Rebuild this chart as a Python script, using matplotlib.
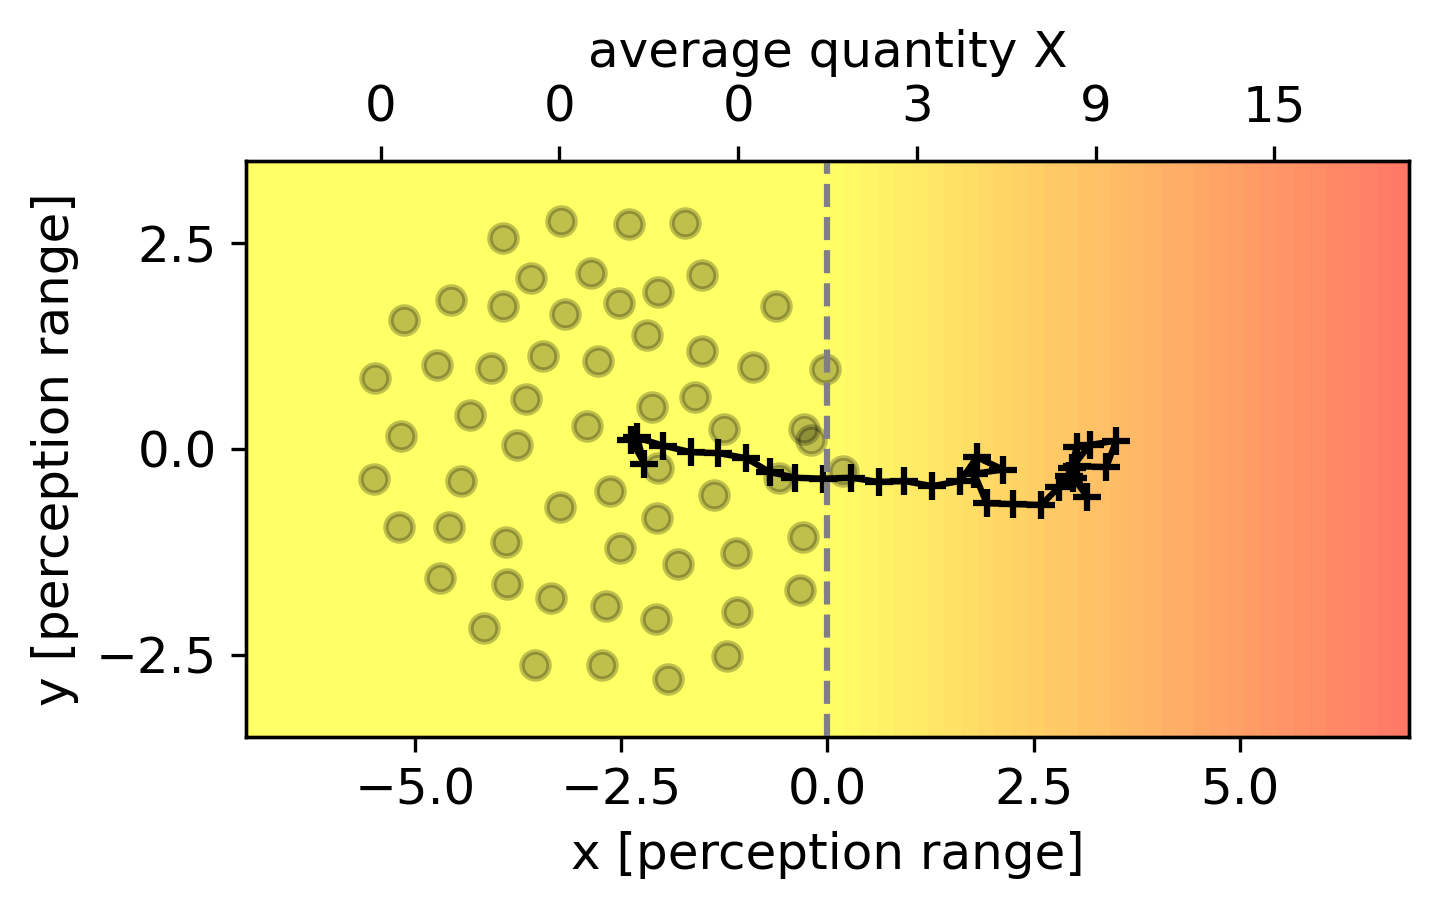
import matplotlib
matplotlib.use("Agg")
import matplotlib.pyplot as plt
import numpy as np

# neighbour positions (perception range units)
dots_x = [-3.23, -2.41, -1.73, -3.93, -3.60, -2.87, -1.52, -4.57, -3.94, -3.18,
          -2.53, -2.06, -0.62, -5.14, -2.19, -1.52, -5.48, -4.74, -4.08, -3.45,
          -2.78, -0.90, -0.03, -5.17, -4.33, -3.65, -2.91, -2.13, -1.61, -1.25,
          -0.28, -0.20, -3.77, -5.50, -4.44, -2.06, -0.59, 0.19, -5.20, -4.59,
          -3.90, -3.24, -2.64, -2.07, -1.38, -0.30, -2.51, -1.81, -1.11, -4.70,
          -3.88, -3.35, -2.68, -2.08, -1.10, -0.33, -4.17, -3.55, -2.73, -1.93,
          -1.22]
dots_y = [2.77, 2.74, 2.75, 2.57, 2.08, 2.14, 2.12, 1.81, 1.74, 1.64,
          1.77, 1.91, 1.74, 1.57, 1.38, 1.19, 0.86, 1.02, 0.98, 1.13,
          1.07, 1.00, 0.97, 0.16, 0.41, 0.61, 0.28, 0.51, 0.63, 0.24,
          0.24, 0.11, 0.05, -0.36, -0.39, -0.23, -0.35, -0.27, -0.95, -0.95,
          -1.13, -0.70, -0.51, -0.84, -0.56, -1.07, -1.20, -1.40, -1.27, -1.57,
          -1.64, -1.81, -1.91, -2.07, -1.98, -1.71, -2.18, -2.63, -2.62, -2.79,
          -2.51]

# agent trajectory
traj_x = [-2.38, -2.22, -2.31, -1.99, -1.65, -1.33, -0.99, -0.70, -0.39, -0.05,
          0.29, 0.62, 0.93, 1.27, 1.61, 1.81, 2.13, 1.78, 1.93, 2.25,
          2.59, 2.81, 2.93, 3.02, 2.98, 3.15, 2.96, 3.18, 3.50, 3.38, 3.03]
traj_y = [0.11, -0.18, 0.14, 0.04, -0.04, -0.05, -0.11, -0.28, -0.35, -0.36,
          -0.35, -0.40, -0.39, -0.45, -0.39, -0.10, -0.25, -0.30, -0.66, -0.67,
          -0.68, -0.46, -0.33, 0.02, -0.35, -0.58, -0.23, 0.05, 0.10, -0.22, -0.21]

# background quantity per column (0.2 wide cells), zero left of the boundary
quantity_cols = [0.0] * 35 + [
    0.3, 0.8, 1.4, 1.9, 2.5, 3.0, 3.6, 4.1, 4.7, 5.3,
    5.8, 6.4, 6.9, 7.5, 8.0, 8.6, 9.1, 9.7, 10.2, 10.8,
    11.4, 11.9, 12.5, 13.0, 13.6, 14.1, 14.7, 15.2, 15.8, 16.3,
    16.9, 17.4, 18.0, 18.6, 19.1]
n_rows = 35

top_tick_labels = ["0", "0", "0", "3", "9", "15"]

plt.rcParams["font.family"] = "DejaVu Sans"
plt.rcParams["font.size"] = 12

fig = plt.figure(figsize=(1441 / 300, 911 / 300), dpi=300)
ax = fig.add_axes([0.1707, 0.191, 0.8071, 0.6323])

xlim = (-7.05, 7.05)
ylim = (-3.5, 3.5)

field = np.tile(np.array(quantity_cols), (n_rows, 1))
ax.imshow(field, cmap="autumn_r", vmin=0, vmax=22, alpha=0.6,
          extent=(xlim[0], xlim[1], ylim[0], ylim[1]), origin="lower",
          aspect="auto", interpolation="nearest", zorder=0)

ax.plot(dots_x, dots_y, "o", color="k", alpha=0.25, markersize=6.5,
        markeredgewidth=1.3, zorder=2)
ax.plot(traj_x, traj_y, "k+-", linewidth=1.5, markersize=6.5, markeredgewidth=1.5, zorder=3)
ax.axvline(0, color="0.5", linestyle="--", linewidth=1.5, zorder=4)

ax.set_xlim(*xlim)
ax.set_ylim(*ylim)
ax.set_xticks([-5.0, -2.5, 0.0, 2.5, 5.0])
ax.set_yticks([-2.5, 0.0, 2.5])
ax.set_xlabel("x [perception range]")
ax.set_ylabel("y [perception range]")

# top axis: bin centres over the sampled range
edges = np.linspace(-6.5, 6.5, len(top_tick_labels) + 1)
centers = (edges[:-1] + edges[1:]) / 2
top = ax.twiny()
top.set_xlim(*xlim)
top.set_xticks(centers)
top.set_xticklabels(top_tick_labels)
top.set_xlabel("average quantity X")

fig.savefig("out.png", dpi=300)
